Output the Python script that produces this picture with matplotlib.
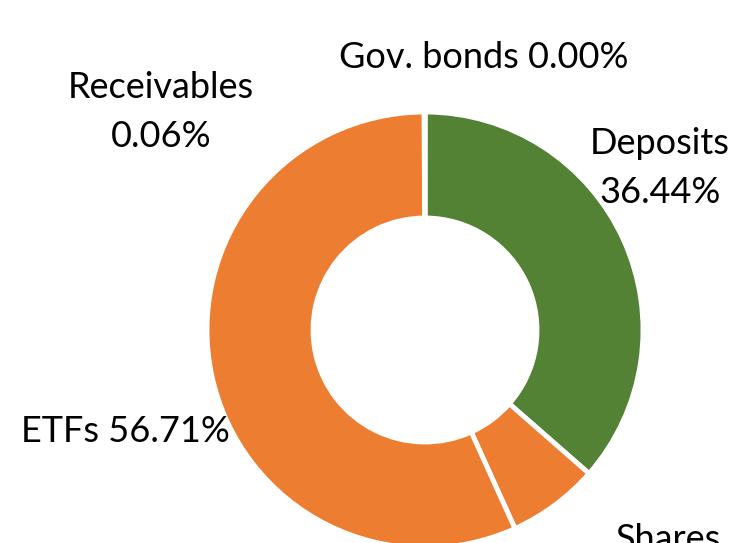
import matplotlib.pyplot as plt

# portfolio breakdown (clockwise from 12 o'clock)
categories = ["Deposits", "Shares", "ETFs", "Receivables", "Gov. bonds"]
shares_pct = [36.44, 6.79, 56.71, 0.06, 0.00]
colors = ["#548235", "#ED7D31", "#ED7D31", "#A5A5A5", "#4472C4"]

plt.rcParams['font.family'] = ['Lato', 'DejaVu Sans']

fig = plt.figure(figsize=(7.32, 5.43), dpi=100)
ax = fig.add_axes([0, 0, 1, 1])

ax.pie(shares_pct, colors=colors, startangle=90, counterclock=False,
       center=(425, 213), radius=218, frame=True,
       wedgeprops=dict(width=106, edgecolor='white', linewidth=3.5))
ax.set_xlim(0, 732)
ax.set_ylim(0, 543)
ax.set_aspect('equal')
ax.axis('off')

fs = 26
ls = 1.58
lbl = lambda i: "%s\n%.2f%%" % (categories[i], shares_pct[i])
ax.text(484, 543 - 58, "%s %.2f%%" % (categories[4], shares_pct[4]),
        ha='center', va='center', fontsize=fs)
ax.text(161, 543 - 112, lbl(3), ha='center', va='center', fontsize=fs,
        linespacing=ls)
ax.text(660, 543 - 168, lbl(0), ha='center', va='center', fontsize=fs,
        linespacing=ls)
ax.text(125, 543 - 432, "%s %.2f%%" % (categories[2], shares_pct[2]),
        ha='center', va='center', fontsize=fs)
ax.text(668, 543 - 564, lbl(1), ha='center', va='center', fontsize=fs,
        linespacing=ls)

fig.savefig('out.png', dpi=100)
